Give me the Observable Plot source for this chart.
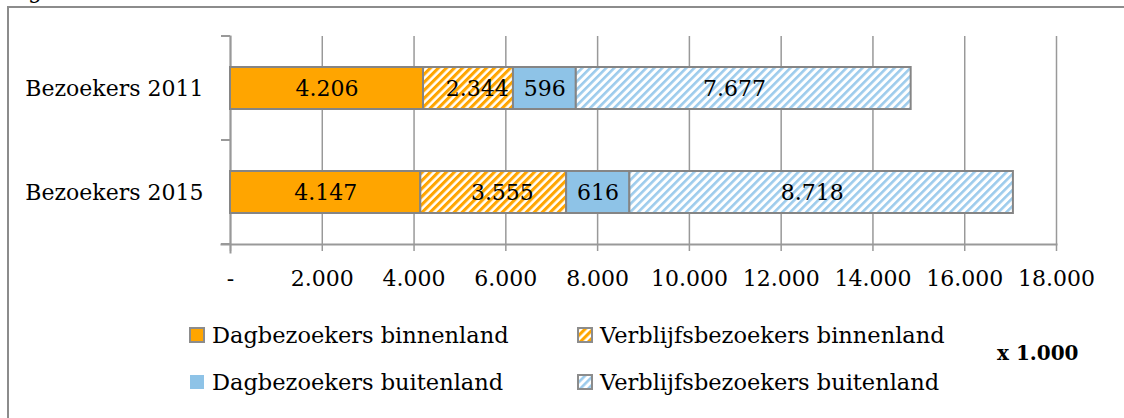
<!DOCTYPE html>
<html>
<head>
<meta charset="utf-8">
<script src="https://cdn.jsdelivr.net/npm/d3@7"></script>
<script src="https://cdn.jsdelivr.net/npm/@observablehq/plot@0.6"></script>
<style>
  html, body { margin: 0; padding: 0; background: #fff; }
  #wrap { position: relative; width: 1124px; height: 418px; overflow: hidden; font-family: "DejaVu Serif", serif; color: #000; }
  #frame { position: absolute; left: 7px; top: 6px; width: 1200px; height: 500px; border-left: 2px solid #8c8c8c; border-top: 2px solid #8c8c8c; }
  #cut { position: absolute; left: 28px; top: -22px; font-size: 22px; }
  #chart { position: absolute; left: 0; top: 0; }
  .leg { position: absolute; display: flex; align-items: center; font-size: 22.5px; white-space: nowrap; }
  .leg svg { margin-right: 7px; }
  #unit { position: absolute; left: 997px; top: 341px; font-size: 20px; font-weight: bold; }
</style>
</head>
<body>
<div id="wrap">
  <div id="frame"></div>
  <div id="cut">g</div>
  <div id="chart"></div>
  <div id="legend"></div>
  <div id="unit">x 1.000</div>
</div>
<script>
const years = ["Bezoekers 2011", "Bezoekers 2015"];
const series = ["Dagbezoekers binnenland", "Verblijfsbezoekers binnenland", "Dagbezoekers buitenland", "Verblijfsbezoekers buitenland"];
// values as printed in the bar labels
const labels2011 = [4206, 2344, 596, 7677];
const labels2015 = [4147, 3555, 616, 8718];
// segment lengths as drawn in the picture
const bars2011 = [4206, 1960, 1370, 7297];
const bars2015 = [4147, 3178, 1378, 8358];
const xTicks = [0, 2000, 4000, 6000, 8000, 10000, 12000, 14000, 16000, 18000];
const fills = ["#FFA500", "url(#hatchOrange)", "#8EC3E7", "url(#hatchBlue)"];

const nl = d3.formatLocale({decimal: ",", thousands: ".", grouping: [3], currency: ["€", ""]}).format(",d");

const data = [];
years.forEach((yr, i) => {
  const labs = i === 0 ? labels2011 : labels2015;
  const bars = i === 0 ? bars2011 : bars2015;
  series.forEach((s, j) => data.push({year: yr, series: s, value: labs[j], bar: bars[j]}));
});

const plot = Plot.plot({
  width: 1124,
  height: 418,
  marginLeft: 230,
  marginRight: 68,
  marginTop: 36,
  marginBottom: 174,
  style: {fontFamily: "DejaVu Serif, serif", fontSize: "22px", color: "#000", background: "transparent"},
  x: {domain: [0, 18000], label: null},
  y: {domain: years, paddingInner: 0.6, paddingOuter: 0.3, label: null},
  color: {domain: series, range: fills},
  marks: [
    Plot.gridX(xTicks, {stroke: "#999", strokeOpacity: 1, strokeWidth: 1.5}),
    Plot.frame({anchor: "bottom", stroke: "#999", strokeWidth: 2, strokeOpacity: 1, insetLeft: -9}),
    Plot.frame({anchor: "left", stroke: "#999", strokeWidth: 2, strokeOpacity: 1, insetBottom: -8}),
    Plot.barX(data, Plot.stackX({x: "bar", y: "year", z: "series", fill: "series", order: series, stroke: "#858585", strokeWidth: 2})),
    Plot.text(data, Plot.stackX({x: "value", y: "year", z: "series", order: series, text: d => nl(d.value), fill: "#000", fontSize: 22})),
    Plot.axisX({ticks: xTicks, tickFormat: d => d === 0 ? "-" : nl(d), tickSize: 7, tickPadding: 19, stroke: "#999", strokeWidth: 1.5, fontSize: 22, label: null}),
    Plot.axisY({tickSize: 0, tickPadding: 27, fontSize: 22, label: null})
  ]
});

// pattern definitions for hatched fills
const ns = "http://www.w3.org/2000/svg";
const defs = document.createElementNS(ns, "defs");
defs.innerHTML = `
  <pattern id="hatchOrange" patternUnits="userSpaceOnUse" width="5.66" height="5.66" patternTransform="rotate(45)">
    <rect width="5.66" height="5.66" fill="#fff"/>
    <rect width="3.1" height="5.66" fill="#FFA500"/>
  </pattern>
  <pattern id="hatchBlue" patternUnits="userSpaceOnUse" width="5.66" height="5.66" patternTransform="rotate(45)">
    <rect width="5.66" height="5.66" fill="#fff"/>
    <rect width="2.6" height="5.66" fill="#9CCBEC"/>
  </pattern>`;
plot.insertBefore(defs, plot.firstChild);

// band boundary ticks on the y axis
const ys = plot.scale("y");
const step = ys.step;
const edges = [ys.apply(years[0]) - (step - ys.bandwidth) / 2];
years.forEach(y => edges.push(ys.apply(y) + ys.bandwidth + (step - ys.bandwidth) / 2));
const g = d3.select(plot).append("g");
g.selectAll("line").data(edges).join("line")
  .attr("x1", 221).attr("x2", 230)
  .attr("y1", d => d).attr("y2", d => d)
  .attr("stroke", "#999").attr("stroke-width", 2);

document.getElementById("chart").appendChild(plot);

// legend
const legendPos = [
  {left: 189, top: 322}, {left: 577, top: 322},
  {left: 189, top: 369}, {left: 577, top: 369}
];
const borders = [true, true, false, true];
const legend = document.getElementById("legend");
series.forEach((s, i) => {
  const div = document.createElement("div");
  div.className = "leg";
  div.style.left = legendPos[i].left + "px";
  div.style.top = legendPos[i].top + "px";
  div.innerHTML = `<svg width="16" height="16"><rect x="1" y="1" width="14" height="14" fill="${fills[i]}" stroke="${borders[i] ? "#8c8c8c" : "none"}" stroke-width="2"/></svg><span>${s}</span>`;
  legend.appendChild(div);
});
</script>
</body>
</html>
